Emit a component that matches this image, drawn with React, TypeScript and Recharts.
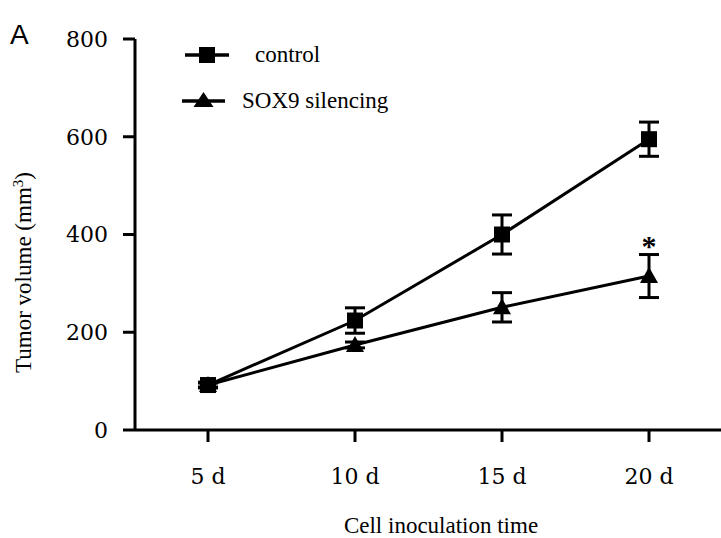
import React from 'react';
import { LineChart, Line, XAxis, YAxis, ErrorBar, Legend, ReferenceDot, Label } from 'recharts';

const categories = ['5 d', '10 d', '15 d', '20 d'];
const controlMean = [92, 224, 400, 595];
const controlErr = [6, 26, 40, 35];
const soxMean = [92, 174, 251, 315];
const soxErr = [4, 6, 30, 44];
const yTicks = [0, 200, 400, 600, 800];
const seriesNames = ['control', 'SOX9 silencing'];
const significance = [{ x: '20 d', y: 390, text: '*' }];

const data = categories.map((c, i) => ({
  day: c,
  control: controlMean[i],
  controlErr: controlErr[i],
  sox: soxMean[i],
  soxErr: soxErr[i],
}));

const SERIF = '"Liberation Serif", "Times New Roman", serif';
const TICKFONT = '"DejaVu Serif", serif';

const Square = (p: any) => {
  const { cx, cy, index } = p;
  if (cx == null || cy == null) return <g key={`s${index}`} />;
  return <rect key={`s${index}`} x={cx - 8} y={cy - 8} width={16} height={16} fill="#000" />;
};

const Triangle = (p: any) => {
  const { cx, cy, index } = p;
  if (cx == null || cy == null) return <g key={`t${index}`} />;
  return (
    <polygon
      key={`t${index}`}
      points={`${cx},${cy - 9} ${cx - 9},${cy + 7} ${cx + 9},${cy + 7}`}
      fill="#000"
    />
  );
};

const renderLegend = (props: any) => {
  const payload = [...(props.payload || [])].sort(
    (a: any, b: any) => seriesNames.indexOf(a.value) - seriesNames.indexOf(b.value)
  );
  return (
    <svg width={260} height={90} style={{ display: 'block', fontFamily: 'Liberation Serif' }} fontFamily="Liberation Serif">
      {payload.map((entry: any, i: number) => {
        const cy = 17 + i * 46;
        const isControl = entry.dataKey === 'control';
        const lx1 = isControl ? 5 : 2;
        const lx2 = isControl ? 49 : 45;
        const mx = (lx1 + lx2) / 2;
        return (
          <g key={entry.value}>
            <line x1={lx1} x2={lx2} y1={cy} y2={cy} stroke="#000" strokeWidth={3.5} />
            {isControl ? (
              <rect x={mx - 8} y={cy - 8} width={16} height={16} fill="#000" />
            ) : (
              <polygon points={`${mx},${cy - 9} ${mx - 10},${cy + 6} ${mx + 10},${cy + 6}`} fill="#000" />
            )}
            <text
              x={isControl ? 75 : 62}
              y={cy + 7}
              fontFamily="Liberation Serif"
              fontSize={23}
              fill="#000"
            >
              {entry.value}
            </text>
          </g>
        );
      })}
    </svg>
  );
};

const YTitle = (props: any) => {
  const vb = props.viewBox || {};
  const cx = 31;
  const cy = vb.y + vb.height / 2 + 38;
  return (
    <text
      x={cx}
      y={cy}
      transform={`rotate(-90, ${cx}, ${cy})`}
      textAnchor="middle"
      style={{ fontFamily: SERIF, fontSize: 23 }}
      fill="#000"
    >
      Tumor volume (mm
      <tspan baselineShift="super" style={{ fontSize: 15 }}>3</tspan>
      )
    </text>
  );
};

const XTitle = (props: any) => {
  const vb = props.viewBox || {};
  const cx = vb.x + vb.width / 2 + 13;
  return (
    <text x={cx} y={533} textAnchor="middle" style={{ fontFamily: SERIF, fontSize: 23 }} fill="#000">
      Cell inoculation time
    </text>
  );
};

export default function App() {
  return (
    <div style={{ position: 'absolute', left: 0, top: 0, width: 721, height: 538, background: '#fff' }}>
      <div
        style={{
          position: 'absolute',
          left: 10,
          top: 17,
          fontFamily: '"Liberation Sans", Arial, sans-serif',
          fontSize: 28,
          lineHeight: '36px',
          color: '#000',
          zIndex: 2,
        }}
      >
        A
      </div>
      <LineChart width={721} height={538} data={data} margin={{ top: 39, right: 0, bottom: 0, left: 0 }}>
        <XAxis
          dataKey="day"
          height={108}
          padding={{ left: 73, right: 72 }}
          axisLine={{ stroke: '#000', strokeWidth: 3 }}
          tickLine={{ stroke: '#000', strokeWidth: 3 }}
          tickSize={12}
          tickMargin={26}
          tick={{ fill: '#000', fontSize: 22, fontFamily: TICKFONT }}
        >
          <Label content={<XTitle />} />
        </XAxis>
        <YAxis
          width={135}
          domain={[0, 800]}
          ticks={yTicks}
          axisLine={{ stroke: '#000', strokeWidth: 3 }}
          tickLine={{ stroke: '#000', strokeWidth: 3 }}
          tickSize={12}
          tickMargin={15}
          tick={{ fill: '#000', fontSize: 22, fontFamily: TICKFONT }}
        >
          <Label content={<YTitle />} />
        </YAxis>
        <Legend
          layout="vertical"
          align="center"
          verticalAlign="middle"
          wrapperStyle={{ left: 180, top: 38, width: 260, fontFamily: 'Liberation Serif' }}
          content={renderLegend}
        />
        <Line
          dataKey="control"
          name={seriesNames[0]}
          stroke="#000"
          strokeWidth={3}
          dot={Square}
          activeDot={false}
          isAnimationActive={false}
        >
          <ErrorBar dataKey="controlErr" direction="y" width={10} stroke="#000" strokeWidth={3} />
        </Line>
        <Line
          dataKey="sox"
          name={seriesNames[1]}
          stroke="#000"
          strokeWidth={3}
          dot={Triangle}
          activeDot={false}
          isAnimationActive={false}
        >
          <ErrorBar dataKey="soxErr" direction="y" width={10} stroke="#000" strokeWidth={3} />
        </Line>
        {significance.map((s) => (
          <ReferenceDot
            key={s.x}
            x={s.x}
            y={s.y}
            r={0}
            shape={(p: any) => (
              <text
                x={p.cx}
                y={p.cy}
                dy="0.55em"
                textAnchor="middle"
                style={{ fontFamily: SERIF, fontWeight: 'bold', fontSize: 30 }}
                fill="#000"
              >
                {s.text}
              </text>
            )}
          />
        ))}
      </LineChart>
    </div>
  );
}
